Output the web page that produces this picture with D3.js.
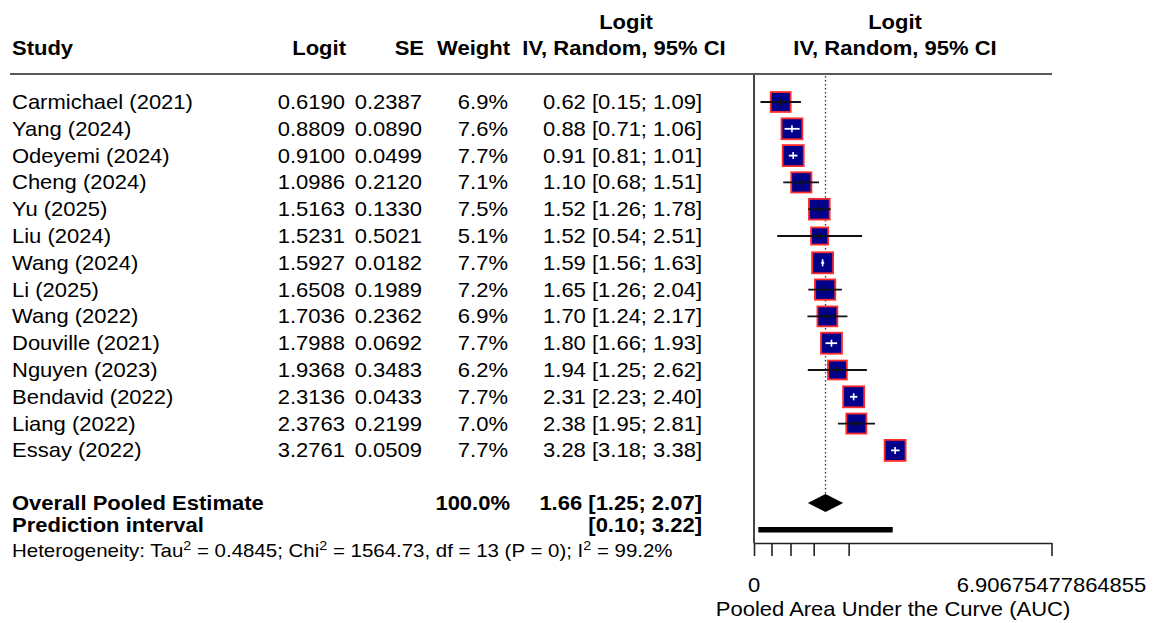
<!DOCTYPE html>
<html>
<head>
  <meta charset="utf-8">
  <title>Forest plot</title>
  <script src="https://cdn.jsdelivr.net/npm/d3@7"></script>
  <style>
    body { margin: 0; background: #fff; }
    text { font-family: "Liberation Sans", Arial, sans-serif; fill: #000; }
  </style>
</head>
<body>
<script>
// ---- data ----
var studies = ["Carmichael (2021)", "Yang (2024)", "Odeyemi (2024)", "Cheng (2024)", "Yu (2025)",
  "Liu (2024)", "Wang (2024)", "Li (2025)", "Wang (2022)", "Douville (2021)", "Nguyen (2023)",
  "Bendavid (2022)", "Liang (2022)", "Essay (2022)"];
var logit = [0.6190, 0.8809, 0.9100, 1.0986, 1.5163, 1.5231, 1.5927, 1.6508, 1.7036, 1.7988, 1.9368, 2.3136, 2.3763, 3.2761];
var se = [0.2387, 0.0890, 0.0499, 0.2120, 0.1330, 0.5021, 0.0182, 0.1989, 0.2362, 0.0692, 0.3483, 0.0433, 0.2199, 0.0509];
var weight = [6.9, 7.6, 7.7, 7.1, 7.5, 5.1, 7.7, 7.2, 6.9, 7.7, 6.2, 7.7, 7.0, 7.7];
var ciLower = [0.15, 0.71, 0.81, 0.68, 1.26, 0.54, 1.56, 1.26, 1.24, 1.66, 1.25, 2.23, 1.95, 3.18];
var ciUpper = [1.09, 1.06, 1.01, 1.51, 1.78, 2.51, 1.63, 2.04, 2.17, 1.93, 2.62, 2.40, 2.81, 3.38];
var pooled = [1.66, 1.25, 2.07];          // estimate, lower, upper
var predInterval = [0.10, 3.22];
var tickAUC = [0.5, 0.6, 0.7, 0.8, 0.9, 0.999];
var tickLabels = ["0", "", "", "", "", "6.90675477864855"];

// ---- layout ----
var W = 1156, H = 623;
var svg = d3.select("body").append("svg").attr("width", W).attr("height", H);

var x = d3.scaleLinear().domain([0, 6.90675477864855]).range([754, 1051.5]);
var y = d3.scalePoint().domain(d3.range(studies.length)).range([102, 450.4]);
var box = d3.scaleSqrt().domain([0, 7.7]).range([0, 21]);

var STRETCH = 1.1;
function txt(px, py, str, anchor, bold, size) {
  return svg.append("text")
    .attr("transform", "translate(" + px + "," + py + ") scale(" + STRETCH + ",1)")
    .attr("text-anchor", anchor || "start")
    .style("font-size", (size || 20) + "px")
    .style("font-weight", bold ? "bold" : "normal")
    .text(str);
}

// header
txt(12, 55, "Study", "start", true);
txt(346, 55, "Logit", "end", true);
txt(424, 55, "SE", "end", true);
txt(510, 55, "Weight", "end", true);
txt(626, 29, "Logit", "middle", true);
txt(624, 55, "IV, Random, 95% CI", "middle", true);
txt(895, 29, "Logit", "middle", true);
txt(895, 55, "IV, Random, 95% CI", "middle", true);

svg.append("line").attr("x1", 10).attr("x2", 1052).attr("y1", 74).attr("y2", 74)
  .attr("stroke", "#222").attr("stroke-width", 1.6);

// study rows
studies.forEach(function(s, i) {
  var yy = y(i) + 7;
  txt(12, yy, s, "start");
  txt(345, yy, logit[i].toFixed(4), "end");
  txt(422, yy, se[i].toFixed(4), "end");
  txt(508, yy, weight[i].toFixed(1) + "%", "end");
  txt(702, yy, logit[i].toFixed(2) + " [" + ciLower[i].toFixed(2) + "; " + ciUpper[i].toFixed(2) + "]", "end");
});

// summary rows
txt(12, 510, "Overall Pooled Estimate", "start", true);
txt(510, 510, "100.0%", "end", true);
txt(702, 510, pooled[0].toFixed(2) + " [" + pooled[1].toFixed(2) + "; " + pooled[2].toFixed(2) + "]", "end", true);
txt(12, 532, "Prediction interval", "start", true);
txt(702, 532, "[" + predInterval[0].toFixed(2) + "; " + predInterval[1].toFixed(2) + "]", "end", true);

var het = txt(12, 557, "", "start", false, 18.6);
het.append("tspan").text("Heterogeneity: Tau");
het.append("tspan").attr("dy", -7).style("font-size", "13px").text("2");
het.append("tspan").attr("dy", 7).text(" = 0.4845; Chi");
het.append("tspan").attr("dy", -7).style("font-size", "13px").text("2");
het.append("tspan").attr("dy", 7).text(" = 1564.73, df = 13 (P = 0); I");
het.append("tspan").attr("dy", -7).style("font-size", "13px").text("2");
het.append("tspan").attr("dy", 7).text(" = 99.2%");

// reference line at 0
svg.append("line").attr("x1", x(0)).attr("x2", x(0)).attr("y1", 75).attr("y2", 543)
  .attr("stroke", "#444").attr("stroke-width", 2);

// pooled dotted line
svg.append("line").attr("x1", x(pooled[0])).attr("x2", x(pooled[0])).attr("y1", 76).attr("y2", 494)
  .attr("stroke", "#333").attr("stroke-width", 1.3).attr("stroke-dasharray", "1.5,2.5");

// CI lines + boxes
var rows = svg.append("g").selectAll("g").data(studies).enter().append("g");
rows.each(function(s, i) {
  var g = d3.select(this);
  var cx = x(logit[i]), cy = y(i), side = box(weight[i]);
  var inside = x(ciLower[i]) >= cx - side / 2 && x(ciUpper[i]) <= cx + side / 2;
  var col = inside ? "#fff" : "#111";
  g.append("rect")
    .attr("x", cx - side / 2).attr("y", cy - side / 2)
    .attr("width", side).attr("height", side)
    .attr("fill", "#00008b").attr("stroke", "#ff2a2a").attr("stroke-width", 1.8);
  g.append("line").attr("x1", x(ciLower[i])).attr("x2", x(ciUpper[i])).attr("y1", cy).attr("y2", cy)
    .attr("stroke", col).attr("stroke-width", 1.8);
  g.append("line").attr("x1", cx).attr("x2", cx).attr("y1", cy - 3.5).attr("y2", cy + 3.5)
    .attr("stroke", col).attr("stroke-width", 1.6);
});

// diamond
var dy = 503;
svg.append("path")
  .attr("d", "M" + x(pooled[1]) + "," + dy + "L" + x(pooled[0]) + "," + (dy - 9) +
        "L" + x(pooled[2]) + "," + dy + "L" + x(pooled[0]) + "," + (dy + 9) + "Z")
  .attr("fill", "#000");

// prediction interval bar
svg.append("rect").attr("x", x(predInterval[0])).attr("y", 527)
  .attr("width", x(predInterval[1]) - x(predInterval[0])).attr("height", 5.5).attr("fill", "#000");

// axis
var tickVals = tickAUC.map(function(p) { return Math.log(p / (1 - p)); });
tickVals[tickVals.length - 1] = 6.90675477864855;
var axis = d3.axisBottom(x).tickValues(tickVals).tickSize(13).tickSizeOuter(0).tickFormat("");
var ax = svg.append("g").attr("transform", "translate(0,543)").call(axis);
ax.select(".domain").attr("stroke", "#222").attr("stroke-width", 1.6);
ax.selectAll(".tick line").attr("stroke", "#222").attr("stroke-width", 1.6);

tickVals.forEach(function(v, i) {
  if (tickLabels[i]) txt(x(v), 592, tickLabels[i], "middle");
});
txt(893, 616, "Pooled Area Under the Curve (AUC)", "middle");
</script>
</body>
</html>
